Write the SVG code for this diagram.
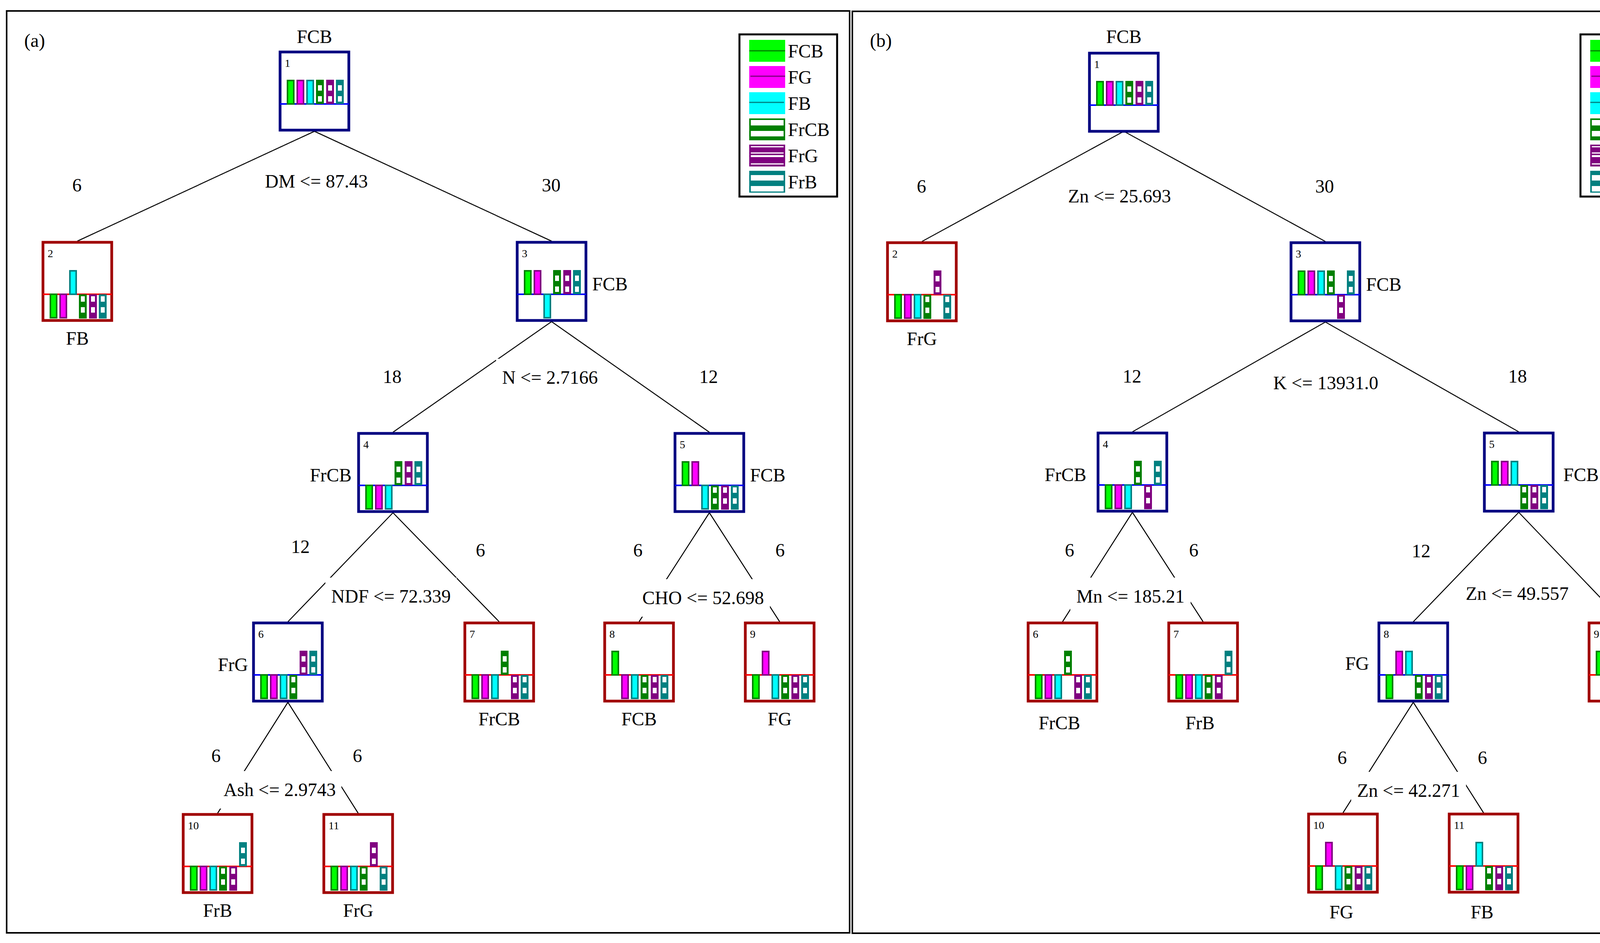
<svg xmlns="http://www.w3.org/2000/svg" xmlns:xlink="http://www.w3.org/1999/xlink" width="4358" height="2413" viewBox="0 0 4358 2413">
<style>
.fcb{fill:#00ff00;stroke:#008000;stroke-width:4}
.fg{fill:#ff00ff;stroke:#800080;stroke-width:4}
.fb{fill:#00ffff;stroke:#008080;stroke-width:4}
.frcb{fill:#008000}.frg{fill:#800080}.frb{fill:#008080}
.w{fill:#fff}
.in{fill:#fff;stroke:#000080;stroke-width:7}
.lf{fill:#fff;stroke:#a00000;stroke-width:7}
.din{stroke:#0000ff;stroke-width:4}
.dlf{stroke:#ff0000;stroke-width:4}
.frame{fill:none;stroke:#000;stroke-width:4}
.leg{fill:#fff;stroke:#000;stroke-width:5}
.c line{stroke:#000;stroke-width:2.5}
text{font-family:"Liberation Serif","Times New Roman",serif;font-size:48px;fill:#000}
.n{font-size:28px}
.m{text-anchor:middle}
.e{text-anchor:end}
.mask{fill:#fff}
</style>
<defs>
<g id="uFCB"><rect class="fcb" x="2" y="-60" width="16" height="60"/></g>
<g id="uFG"><rect class="fg" x="2" y="-60" width="16" height="60"/></g>
<g id="uFB"><rect class="fb" x="2" y="-60" width="16" height="60"/></g>
<g id="uFrCB"><rect class="frcb" x="0" y="-62" width="20" height="62"/><rect class="w" x="5" y="-48" width="10" height="14"/><rect class="w" x="5" y="-20" width="10" height="14"/></g>
<g id="uFrG"><rect class="frg" x="0" y="-62" width="20" height="62"/><rect class="w" x="5" y="-48" width="10" height="14"/><rect class="w" x="5" y="-20" width="10" height="14"/></g>
<g id="uFrB"><rect class="frb" x="0" y="-62" width="20" height="62"/><rect class="w" x="5" y="-48" width="10" height="14"/><rect class="w" x="5" y="-20" width="10" height="14"/></g>
<g id="dFCB"><rect class="fcb" x="2" y="0" width="16" height="60"/></g>
<g id="dFG"><rect class="fg" x="2" y="0" width="16" height="60"/></g>
<g id="dFB"><rect class="fb" x="2" y="0" width="16" height="60"/></g>
<g id="dFrCB"><rect class="frcb" x="0" y="0" width="20" height="62"/><rect class="w" x="5" y="5" width="10" height="14"/><rect class="w" x="5" y="33" width="10" height="14"/></g>
<g id="dFrG"><rect class="frg" x="0" y="0" width="20" height="62"/><rect class="w" x="5" y="5" width="10" height="14"/><rect class="w" x="5" y="33" width="10" height="14"/></g>
<g id="dFrB"><rect class="frb" x="0" y="0" width="20" height="62"/><rect class="w" x="5" y="5" width="10" height="14"/><rect class="w" x="5" y="33" width="10" height="14"/></g>
<g id="legend">
<rect class="leg" x="0" y="0" width="250" height="415"/>
<rect x="25" y="14" width="92" height="56" fill="#00ff00"/><line x1="25" y1="42" x2="117" y2="42" stroke="#008000" stroke-width="3"/>
<rect x="25" y="81" width="92" height="56" fill="#ff00ff"/><line x1="28" y1="107" x2="117" y2="107" stroke="#800080" stroke-width="3"/>
<rect x="25" y="148" width="92" height="56" fill="#00ffff"/><line x1="25" y1="174" x2="114" y2="174" stroke="#008080" stroke-width="3"/>
<rect x="25" y="215" width="92" height="56" fill="#008000"/><rect class="w" x="29" y="219" width="84" height="14"/><rect class="w" x="29" y="247" width="84" height="14"/>
<rect x="25" y="282" width="92" height="56" fill="#800080"/><rect class="w" x="29" y="286" width="84" height="3"/><rect class="w" x="29" y="302" width="84" height="3"/><rect class="w" x="29" y="309" width="84" height="5"/><rect class="w" x="29" y="330" width="84" height="3"/>
<rect x="25" y="349" width="92" height="56" fill="#008080"/><rect class="w" x="29" y="360" width="84" height="14"/><rect class="w" x="29" y="388" width="84" height="14"/>
<text x="124" y="59">FCB</text><text x="124" y="126">FG</text><text x="124" y="193">FB</text><text x="124" y="260">FrCB</text><text x="124" y="327">FrG</text><text x="124" y="394">FrB</text>
</g>
</defs>
<rect width="4358" height="2413" fill="#fff"/>
<rect class="frame" x="17" y="28" width="2158" height="2359"/>
<rect class="frame" x="2182" y="29" width="2155" height="2359"/>
<text x="62" y="120">(a)</text>
<text x="2227" y="120">(b)</text>
<use xlink:href="#legend" x="1893" y="88"/>
<use xlink:href="#legend" x="4046" y="88"/>

<g id="connectors" class="c">
<line x1="805" y1="336" x2="198" y2="617"/><line x1="805" y1="336" x2="1412" y2="617"/>
<line x1="1412" y1="823" x2="1006" y2="1106"/><line x1="1412" y1="823" x2="1816" y2="1106"/>
<line x1="1006" y1="1312" x2="737" y2="1591"/><line x1="1006" y1="1312" x2="1278" y2="1591"/>
<line x1="1816" y1="1312" x2="1636" y2="1591"/><line x1="1816" y1="1312" x2="1996" y2="1591"/>
<line x1="737" y1="1797" x2="557" y2="2081"/><line x1="737" y1="1797" x2="917" y2="2081"/>
<line x1="2877" y1="336" x2="2360" y2="618"/><line x1="2877" y1="336" x2="3393" y2="618"/>
<line x1="3393" y1="824" x2="2899" y2="1105"/><line x1="3393" y1="824" x2="3888" y2="1105"/>
<line x1="2899" y1="1311" x2="2720" y2="1591"/><line x1="2899" y1="1311" x2="3080" y2="1591"/>
<line x1="3888" y1="1311" x2="3618" y2="1591"/><line x1="3888" y1="1311" x2="4156" y2="1591"/>
<line x1="3618" y1="1797" x2="3438" y2="2080"/><line x1="3618" y1="1797" x2="3798" y2="2080"/>
</g>

<g id="edge-labels">
<text class="m" x="197" y="490">6</text>
<text class="m" x="810" y="480">DM &lt;= 87.43</text>
<text class="m" x="1411" y="490">30</text>
<text class="m" x="1004" y="980">18</text>
<rect class="mask" x="1270" y="918" width="276" height="96"/>
<text class="m" x="1408" y="982">N &lt;= 2.7166</text>
<text class="m" x="1814" y="980">12</text>
<text class="m" x="769" y="1415">12</text>
<text class="m" x="1230" y="1424">6</text>
<rect class="mask" x="833" y="1478" width="336" height="96"/>
<text class="m" x="1001" y="1542">NDF &lt;= 72.339</text>
<text class="m" x="1633" y="1424">6</text>
<rect class="mask" x="1629" y="1482" width="342" height="96"/>
<text class="m" x="1800" y="1546">CHO &lt;= 52.698</text>
<text class="m" x="1997" y="1424">6</text>
<text class="m" x="553" y="1950">6</text>
<text class="m" x="915" y="1950">6</text>
<rect class="mask" x="557" y="1973" width="317" height="96"/>
<text class="m" x="716" y="2037">Ash &lt;= 2.9743</text>
<text class="m" x="2359" y="493">6</text>
<text class="m" x="2866" y="518">Zn &lt;= 25.693</text>
<text class="m" x="3391" y="493">30</text>
<text class="m" x="2898" y="979">12</text>
<text class="m" x="3394" y="996">K &lt;= 13931.0</text>
<text class="m" x="3885" y="979">18</text>
<text class="m" x="2738" y="1424">6</text>
<text class="m" x="3056" y="1424">6</text>
<rect class="mask" x="2740" y="1478" width="308" height="96"/>
<text class="m" x="2894" y="1542">Mn &lt;= 185.21</text>
<text class="m" x="3638" y="1426">12</text>
<text class="m" x="4114" y="1426">9</text>
<rect class="mask" x="3737" y="1471" width="294" height="96"/>
<text class="m" x="3884" y="1535">Zn &lt;= 49.557</text>
<text class="m" x="3436" y="1955">6</text>
<text class="m" x="3795" y="1955">6</text>
<rect class="mask" x="3459" y="1975" width="294" height="96"/>
<text class="m" x="3606" y="2039">Zn &lt;= 42.271</text>
</g>

<!-- Panel (a) nodes -->
<g id="a1" transform="translate(717,133)"><rect class="in" width="176" height="200"/><line class="din" x1="0" y1="133" x2="176" y2="133"/><text class="n" x="12" y="38">1</text>
<use xlink:href="#uFCB" x="17" y="133"/><use xlink:href="#uFG" x="42" y="133"/><use xlink:href="#uFB" x="67" y="133"/><use xlink:href="#uFrCB" x="92" y="133"/><use xlink:href="#uFrG" x="118" y="133"/><use xlink:href="#uFrB" x="143" y="133"/>
<text class="m" x="88" y="-23">FCB</text></g>
<g id="a2" transform="translate(110,620)"><rect class="lf" width="176" height="200"/><line class="dlf" x1="0" y1="133" x2="176" y2="133"/><text class="n" x="12" y="38">2</text>
<use xlink:href="#dFCB" x="17" y="133"/><use xlink:href="#dFG" x="42" y="133"/><use xlink:href="#uFB" x="67" y="133"/><use xlink:href="#dFrCB" x="92" y="133"/><use xlink:href="#dFrG" x="118" y="133"/><use xlink:href="#dFrB" x="143" y="133"/>
<text class="m" x="88" y="262">FB</text></g>
<g id="a3" transform="translate(1324,620)"><rect class="in" width="176" height="200"/><line class="din" x1="0" y1="133" x2="176" y2="133"/><text class="n" x="12" y="38">3</text>
<use xlink:href="#uFCB" x="17" y="133"/><use xlink:href="#uFG" x="42" y="133"/><use xlink:href="#dFB" x="67" y="133"/><use xlink:href="#uFrCB" x="92" y="133"/><use xlink:href="#uFrG" x="118" y="133"/><use xlink:href="#uFrB" x="143" y="133"/>
<text x="192" y="123">FCB</text></g>
<g id="a4" transform="translate(918,1109)"><rect class="in" width="176" height="200"/><line class="din" x1="0" y1="133" x2="176" y2="133"/><text class="n" x="12" y="38">4</text>
<use xlink:href="#dFCB" x="17" y="133"/><use xlink:href="#dFG" x="42" y="133"/><use xlink:href="#dFB" x="67" y="133"/><use xlink:href="#uFrCB" x="92" y="133"/><use xlink:href="#uFrG" x="118" y="133"/><use xlink:href="#uFrB" x="143" y="133"/>
<text class="e" x="-18" y="123">FrCB</text></g>
<g id="a5" transform="translate(1728,1109)"><rect class="in" width="176" height="200"/><line class="din" x1="0" y1="133" x2="176" y2="133"/><text class="n" x="12" y="38">5</text>
<use xlink:href="#uFCB" x="17" y="133"/><use xlink:href="#uFG" x="42" y="133"/><use xlink:href="#dFB" x="67" y="133"/><use xlink:href="#dFrCB" x="92" y="133"/><use xlink:href="#dFrG" x="118" y="133"/><use xlink:href="#dFrB" x="143" y="133"/>
<text x="192" y="123">FCB</text></g>
<g id="a6" transform="translate(649,1594)"><rect class="in" width="176" height="200"/><line class="din" x1="0" y1="133" x2="176" y2="133"/><text class="n" x="12" y="38">6</text>
<use xlink:href="#dFCB" x="17" y="133"/><use xlink:href="#dFG" x="42" y="133"/><use xlink:href="#dFB" x="67" y="133"/><use xlink:href="#dFrCB" x="92" y="133"/><use xlink:href="#uFrG" x="118" y="133"/><use xlink:href="#uFrB" x="143" y="133"/>
<text class="e" x="-14" y="123">FrG</text></g>
<g id="a7" transform="translate(1190,1594)"><rect class="lf" width="176" height="200"/><line class="dlf" x1="0" y1="133" x2="176" y2="133"/><text class="n" x="12" y="38">7</text>
<use xlink:href="#dFCB" x="17" y="133"/><use xlink:href="#dFG" x="42" y="133"/><use xlink:href="#dFB" x="67" y="133"/><use xlink:href="#uFrCB" x="92" y="133"/><use xlink:href="#dFrG" x="118" y="133"/><use xlink:href="#dFrB" x="143" y="133"/>
<text class="m" x="88" y="262">FrCB</text></g>
<g id="a8" transform="translate(1548,1594)"><rect class="lf" width="176" height="200"/><line class="dlf" x1="0" y1="133" x2="176" y2="133"/><text class="n" x="12" y="38">8</text>
<use xlink:href="#uFCB" x="17" y="133"/><use xlink:href="#dFG" x="42" y="133"/><use xlink:href="#dFB" x="67" y="133"/><use xlink:href="#dFrCB" x="92" y="133"/><use xlink:href="#dFrG" x="118" y="133"/><use xlink:href="#dFrB" x="143" y="133"/>
<text class="m" x="88" y="262">FCB</text></g>
<g id="a9" transform="translate(1908,1594)"><rect class="lf" width="176" height="200"/><line class="dlf" x1="0" y1="133" x2="176" y2="133"/><text class="n" x="12" y="38">9</text>
<use xlink:href="#dFCB" x="17" y="133"/><use xlink:href="#uFG" x="42" y="133"/><use xlink:href="#dFB" x="67" y="133"/><use xlink:href="#dFrCB" x="92" y="133"/><use xlink:href="#dFrG" x="118" y="133"/><use xlink:href="#dFrB" x="143" y="133"/>
<text class="m" x="88" y="262">FG</text></g>
<g id="a10" transform="translate(469,2084)"><rect class="lf" width="176" height="200"/><line class="dlf" x1="0" y1="133" x2="176" y2="133"/><text class="n" x="12" y="38">10</text>
<use xlink:href="#dFCB" x="17" y="133"/><use xlink:href="#dFG" x="42" y="133"/><use xlink:href="#dFB" x="67" y="133"/><use xlink:href="#dFrCB" x="92" y="133"/><use xlink:href="#dFrG" x="118" y="133"/><use xlink:href="#uFrB" x="143" y="133"/>
<text class="m" x="88" y="262">FrB</text></g>
<g id="a11" transform="translate(829,2084)"><rect class="lf" width="176" height="200"/><line class="dlf" x1="0" y1="133" x2="176" y2="133"/><text class="n" x="12" y="38">11</text>
<use xlink:href="#dFCB" x="17" y="133"/><use xlink:href="#dFG" x="42" y="133"/><use xlink:href="#dFB" x="67" y="133"/><use xlink:href="#dFrCB" x="92" y="133"/><use xlink:href="#uFrG" x="118" y="133"/><use xlink:href="#dFrB" x="143" y="133"/>
<text class="m" x="88" y="262">FrG</text></g>

<!-- Panel (b) nodes -->
<g id="b1" transform="translate(2789,136)"><rect class="in" width="176" height="200"/><line class="din" x1="0" y1="133" x2="176" y2="133"/><text class="n" x="12" y="38">1</text>
<use xlink:href="#uFCB" x="17" y="133"/><use xlink:href="#uFG" x="42" y="133"/><use xlink:href="#uFB" x="67" y="133"/><use xlink:href="#uFrCB" x="92" y="133"/><use xlink:href="#uFrG" x="118" y="133"/><use xlink:href="#uFrB" x="143" y="133"/>
<text class="m" x="88" y="-26">FCB</text></g>
<g id="b2" transform="translate(2272,621)"><rect class="lf" width="176" height="200"/><line class="dlf" x1="0" y1="133" x2="176" y2="133"/><text class="n" x="12" y="38">2</text>
<use xlink:href="#dFCB" x="17" y="133"/><use xlink:href="#dFG" x="42" y="133"/><use xlink:href="#dFB" x="67" y="133"/><use xlink:href="#dFrCB" x="92" y="133"/><use xlink:href="#uFrG" x="118" y="133"/><use xlink:href="#dFrB" x="143" y="133"/>
<text class="m" x="88" y="262">FrG</text></g>
<g id="b3" transform="translate(3305,621)"><rect class="in" width="176" height="200"/><line class="din" x1="0" y1="133" x2="176" y2="133"/><text class="n" x="12" y="38">3</text>
<use xlink:href="#uFCB" x="17" y="133"/><use xlink:href="#uFG" x="42" y="133"/><use xlink:href="#uFB" x="67" y="133"/><use xlink:href="#uFrCB" x="92" y="133"/><use xlink:href="#dFrG" x="118" y="133"/><use xlink:href="#uFrB" x="143" y="133"/>
<text x="192" y="123">FCB</text></g>
<g id="b4" transform="translate(2811,1108)"><rect class="in" width="176" height="200"/><line class="din" x1="0" y1="133" x2="176" y2="133"/><text class="n" x="12" y="38">4</text>
<use xlink:href="#dFCB" x="17" y="133"/><use xlink:href="#dFG" x="42" y="133"/><use xlink:href="#dFB" x="67" y="133"/><use xlink:href="#uFrCB" x="92" y="133"/><use xlink:href="#dFrG" x="118" y="133"/><use xlink:href="#uFrB" x="143" y="133"/>
<text class="e" x="-30" y="123">FrCB</text></g>
<g id="b5" transform="translate(3800,1108)"><rect class="in" width="176" height="200"/><line class="din" x1="0" y1="133" x2="176" y2="133"/><text class="n" x="12" y="38">5</text>
<use xlink:href="#uFCB" x="17" y="133"/><use xlink:href="#uFG" x="42" y="133"/><use xlink:href="#uFB" x="67" y="133"/><use xlink:href="#dFrCB" x="92" y="133"/><use xlink:href="#dFrG" x="118" y="133"/><use xlink:href="#dFrB" x="143" y="133"/>
<text x="202" y="123">FCB</text></g>
<g id="b6" transform="translate(2632,1594)"><rect class="lf" width="176" height="200"/><line class="dlf" x1="0" y1="133" x2="176" y2="133"/><text class="n" x="12" y="38">6</text>
<use xlink:href="#dFCB" x="17" y="133"/><use xlink:href="#dFG" x="42" y="133"/><use xlink:href="#dFB" x="67" y="133"/><use xlink:href="#uFrCB" x="92" y="133"/><use xlink:href="#dFrG" x="118" y="133"/><use xlink:href="#dFrB" x="143" y="133"/>
<text class="m" x="80" y="272">FrCB</text></g>
<g id="b7" transform="translate(2992,1594)"><rect class="lf" width="176" height="200"/><line class="dlf" x1="0" y1="133" x2="176" y2="133"/><text class="n" x="12" y="38">7</text>
<use xlink:href="#dFCB" x="17" y="133"/><use xlink:href="#dFG" x="42" y="133"/><use xlink:href="#dFB" x="67" y="133"/><use xlink:href="#dFrCB" x="92" y="133"/><use xlink:href="#dFrG" x="118" y="133"/><use xlink:href="#uFrB" x="143" y="133"/>
<text class="m" x="80" y="272">FrB</text></g>
<g id="b8" transform="translate(3530,1594)"><rect class="in" width="176" height="200"/><line class="din" x1="0" y1="133" x2="176" y2="133"/><text class="n" x="12" y="38">8</text>
<use xlink:href="#dFCB" x="17" y="133"/><use xlink:href="#uFG" x="42" y="133"/><use xlink:href="#uFB" x="67" y="133"/><use xlink:href="#dFrCB" x="92" y="133"/><use xlink:href="#dFrG" x="118" y="133"/><use xlink:href="#dFrB" x="143" y="133"/>
<text class="e" x="-25" y="120">FG</text></g>
<g id="b9" transform="translate(4068,1594)"><rect class="lf" width="176" height="200"/><line class="dlf" x1="0" y1="133" x2="176" y2="133"/><text class="n" x="12" y="38">9</text>
<use xlink:href="#uFCB" x="17" y="133"/><use xlink:href="#dFG" x="42" y="133"/><use xlink:href="#dFB" x="67" y="133"/><use xlink:href="#dFrCB" x="92" y="133"/><use xlink:href="#dFrG" x="118" y="133"/><use xlink:href="#dFrB" x="143" y="133"/>
<text class="m" x="84" y="272">FCB</text></g>
<g id="b10" transform="translate(3350,2083)"><rect class="lf" width="176" height="200"/><line class="dlf" x1="0" y1="133" x2="176" y2="133"/><text class="n" x="12" y="38">10</text>
<use xlink:href="#dFCB" x="17" y="133"/><use xlink:href="#uFG" x="42" y="133"/><use xlink:href="#dFB" x="67" y="133"/><use xlink:href="#dFrCB" x="92" y="133"/><use xlink:href="#dFrG" x="118" y="133"/><use xlink:href="#dFrB" x="143" y="133"/>
<text class="m" x="84" y="267">FG</text></g>
<g id="b11" transform="translate(3710,2083)"><rect class="lf" width="176" height="200"/><line class="dlf" x1="0" y1="133" x2="176" y2="133"/><text class="n" x="12" y="38">11</text>
<use xlink:href="#dFCB" x="17" y="133"/><use xlink:href="#dFG" x="42" y="133"/><use xlink:href="#uFB" x="67" y="133"/><use xlink:href="#dFrCB" x="92" y="133"/><use xlink:href="#dFrG" x="118" y="133"/><use xlink:href="#dFrB" x="143" y="133"/>
<text class="m" x="84" y="267">FB</text></g>
</svg>
